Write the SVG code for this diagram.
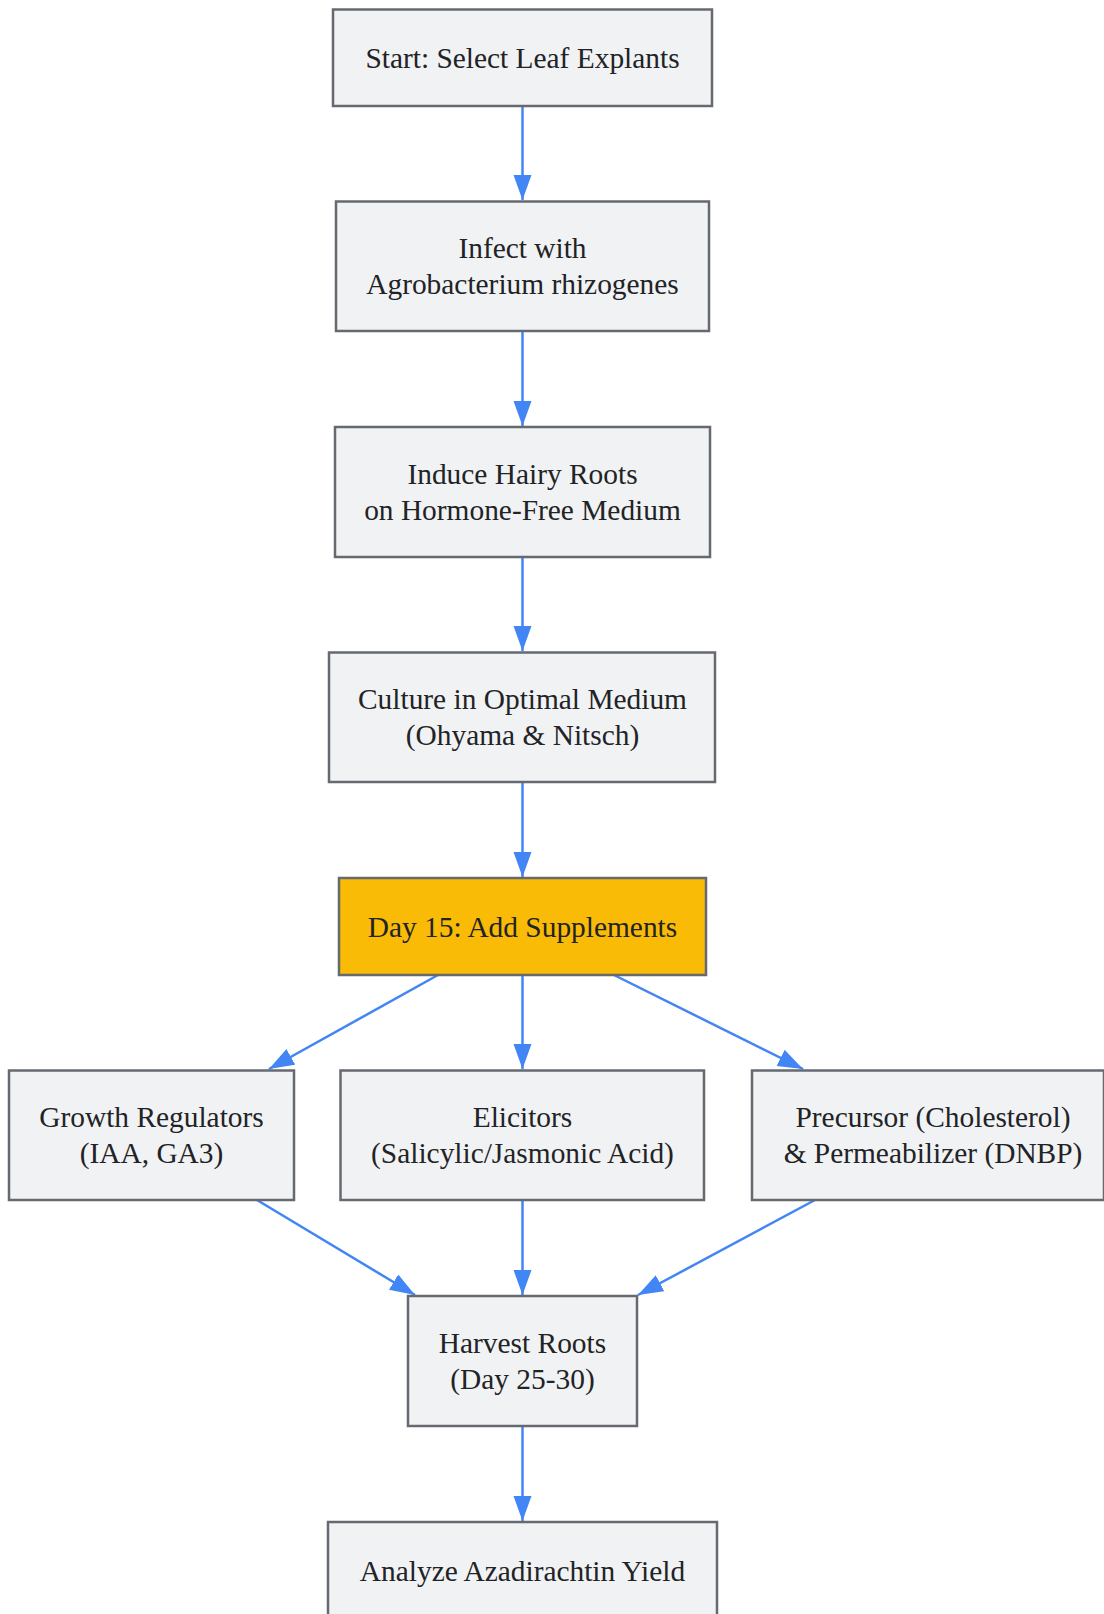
<svg xmlns="http://www.w3.org/2000/svg" width="1104" height="1614" viewBox="0 0 1104 1614">
<style>
.node rect{fill:#f1f2f4;stroke:#666a70;stroke-width:2.5}
.node.hl rect{fill:#f9bb06}
.node text{font-family:"Liberation Serif","Times New Roman",serif;font-size:29.4px;fill:#222326;text-anchor:middle}
.edges line{stroke:#4285f4;stroke-width:2.5;fill:none;marker-end:url(#arr)}
</style>
<defs>
<marker id="arr" markerUnits="userSpaceOnUse" markerWidth="26" markerHeight="20" refX="25" refY="9" orient="auto">
<path d="M0,0 L25,9 L0,18 z" fill="#4285f4"/>
</marker>
</defs>
<rect width="1104" height="1614" fill="#ffffff"/>
<g class="edges">
<line x1="522.5" y1="106" x2="522.5" y2="200"/>
<line x1="522.5" y1="331" x2="522.5" y2="426"/>
<line x1="522.5" y1="557" x2="522.5" y2="651"/>
<line x1="522.5" y1="782" x2="522.5" y2="877"/>
<line x1="438" y1="975" x2="269" y2="1069"/>
<line x1="522.5" y1="975" x2="522.5" y2="1069"/>
<line x1="614" y1="975" x2="803" y2="1069"/>
<line x1="257" y1="1200" x2="415" y2="1295"/>
<line x1="522.5" y1="1200" x2="522.5" y2="1295"/>
<line x1="815" y1="1200" x2="638" y2="1295"/>
<line x1="522.5" y1="1426" x2="522.5" y2="1521"/>
</g>
<g id="start" class="node"><rect x="333" y="9.5" width="379" height="96.5"/><text x="522.5" y="68">Start: Select Leaf Explants</text></g>
<g id="infect" class="node"><rect x="336" y="201.5" width="373" height="129.5"/><text x="522.5" y="258">Infect with</text><text x="522.5" y="294">Agrobacterium rhizogenes</text></g>
<g id="induce" class="node"><rect x="335" y="427" width="375" height="130"/><text x="522.5" y="483.5">Induce Hairy Roots</text><text x="522.5" y="519.5">on Hormone-Free Medium</text></g>
<g id="culture" class="node"><rect x="329" y="652.5" width="386" height="129.5"/><text x="522.5" y="708.5">Culture in Optimal Medium</text><text x="522.5" y="744.5">(Ohyama &amp; Nitsch)</text></g>
<g id="day15" class="node hl"><rect x="339" y="878" width="367" height="97"/><text x="522.5" y="936.5">Day 15: Add Supplements</text></g>
<g id="growth" class="node"><rect x="9" y="1070.5" width="285" height="129.5"/><text x="151.5" y="1126.5">Growth Regulators</text><text x="151.5" y="1162.5">(IAA, GA3)</text></g>
<g id="elicitors" class="node"><rect x="340.5" y="1070.5" width="363.5" height="129.5"/><text x="522.5" y="1126.5">Elicitors</text><text x="522.5" y="1162.5">(Salicylic/Jasmonic Acid)</text></g>
<g id="precursor" class="node"><rect x="752" y="1070.5" width="352" height="129.5"/><text x="933" y="1126.5">Precursor (Cholesterol)</text><text x="933" y="1162.5">&amp; Permeabilizer (DNBP)</text></g>
<g id="harvest" class="node"><rect x="408" y="1296" width="229" height="130"/><text x="522.5" y="1352.5">Harvest Roots</text><text x="522.5" y="1388.5">(Day 25-30)</text></g>
<g id="analyze" class="node"><rect x="328" y="1522" width="389" height="97"/><text x="522.5" y="1580.5">Analyze Azadirachtin Yield</text></g>
</svg>
